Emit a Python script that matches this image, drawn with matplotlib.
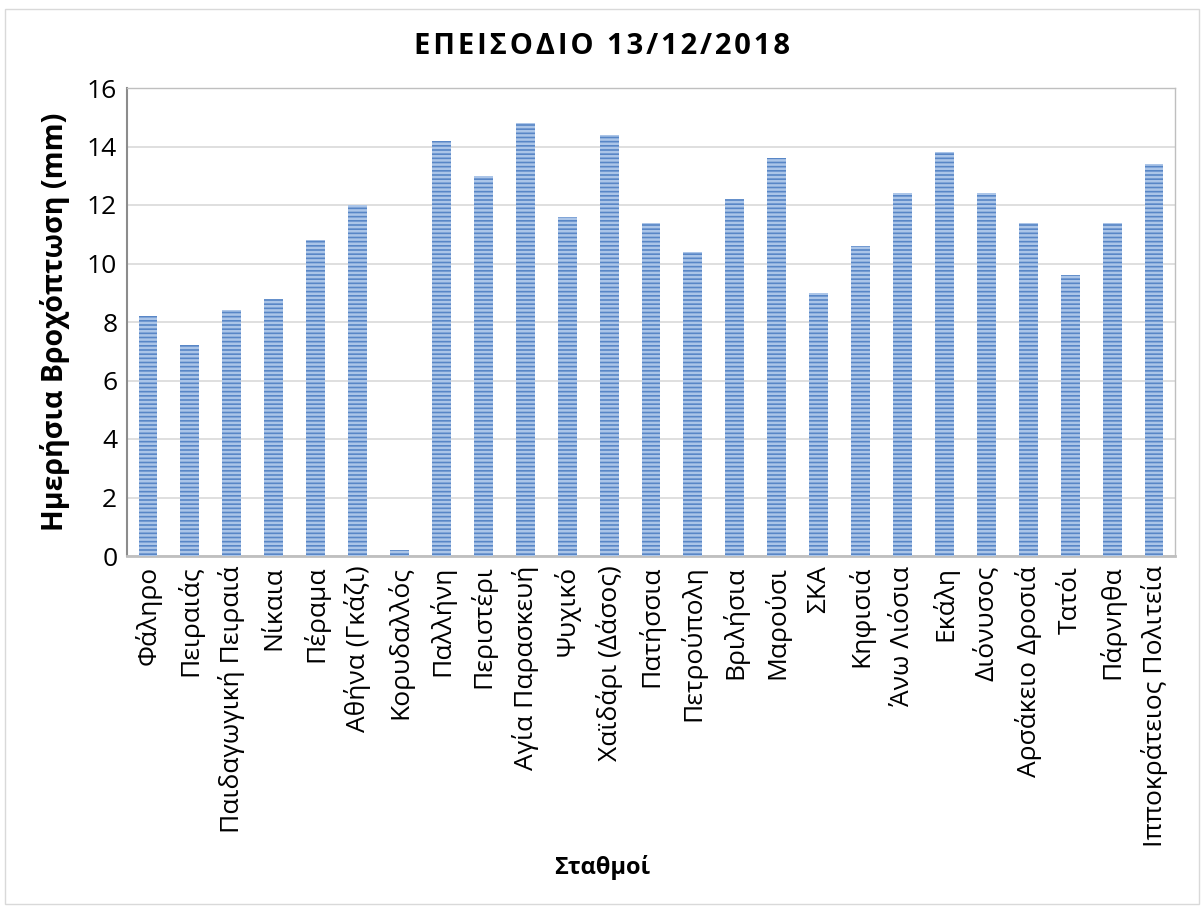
import matplotlib
matplotlib.use("Agg")
import matplotlib.pyplot as plt
from matplotlib.patches import Rectangle

stations = ["Φάληρο", "Πειραιάς", "Παιδαγωγική Πειραιά", "Νίκαια", "Πέραμα",
            "Αθήνα (Γκάζι)", "Κορυδαλλός", "Παλλήνη", "Περιστέρι", "Αγία Παρασκευή",
            "Ψυχικό", "Χαϊδάρι (Δάσος)", "Πατήσσια", "Πετρούπολη", "Βριλήσια",
            "Μαρούσι", "ΣΚΑ", "Κηφισιά", "Άνω Λιόσια", "Εκάλη", "Διόνυσος",
            "Αρσάκειο Δροσιά", "Τατόι", "Πάρνηθα", "Ιπποκράτειος Πολιτεία"]
rain = [8.2, 7.2, 8.4, 8.8, 10.8, 12.0, 0.2, 14.2, 13.0, 14.8,
        11.6, 14.4, 11.4, 10.4, 12.2, 13.6, 9.0, 10.6, 12.4, 13.8,
        12.4, 11.4, 9.6, 11.4, 13.4]
yticks = [0, 2, 4, 6, 8, 10, 12, 14, 16]
title = 'ΕΠΕΙΣΟΔΙΟ 13/12/2018'

plt.rcParams['font.family'] = ['Open Sans', 'DejaVu Sans']
plt.rcParams['hatch.linewidth'] = 1.8

fig = plt.figure(figsize=(12.04, 9.08), dpi=100)
fig.patches.append(Rectangle((0.004, 0.004), 0.992, 0.986, transform=fig.transFigure,
                             fill=False, edgecolor='#d9d9d9', linewidth=1))
ax = fig.add_axes([127/1204, 1-556/908, (1175-127)/1204, (556-88)/908])

x = range(len(stations))
ax.bar(x, rain, width=0.45, color='#5886c6', edgecolor='#abc5e8', linewidth=0,
       hatch='----', zorder=3)

ax.set_xlim(-0.5, len(stations)-0.5)
ax.set_ylim(0, 16)
ax.set_yticks(yticks)
ax.set_yticklabels([str(v) for v in yticks], fontsize=19)
ax.set_xticks(list(x))
ax.set_xticklabels(stations, rotation=90, fontsize=19)
ax.tick_params(axis='both', length=0, pad=7)
ax.grid(axis='y', color='#d9d9d9', linewidth=1.2, zorder=0)
for s in ['top', 'right']:
    ax.spines[s].set_color('#bfbfbf')
    ax.spines[s].set_linewidth(1)
ax.spines['left'].set_color('#8c8c8c')
ax.spines['left'].set_linewidth(1.5)
ax.spines['bottom'].set_color('#bfbfbf')
ax.spines['bottom'].set_linewidth(2)

ax.set_ylabel('Ημερήσια Βροχόπτωση (mm)', fontsize=20.5, fontweight='bold', labelpad=12)
fig.text(0.5, 1-868/908, 'Σταθμοί', ha='center', va='center', fontsize=17, fontweight='bold')
spaced = '\u200a'.join(title)
fig.text(0.5, 1-47/908, spaced, ha='center', va='center',
         fontsize=21, fontweight='bold')

fig.savefig('out.png', dpi=100)
